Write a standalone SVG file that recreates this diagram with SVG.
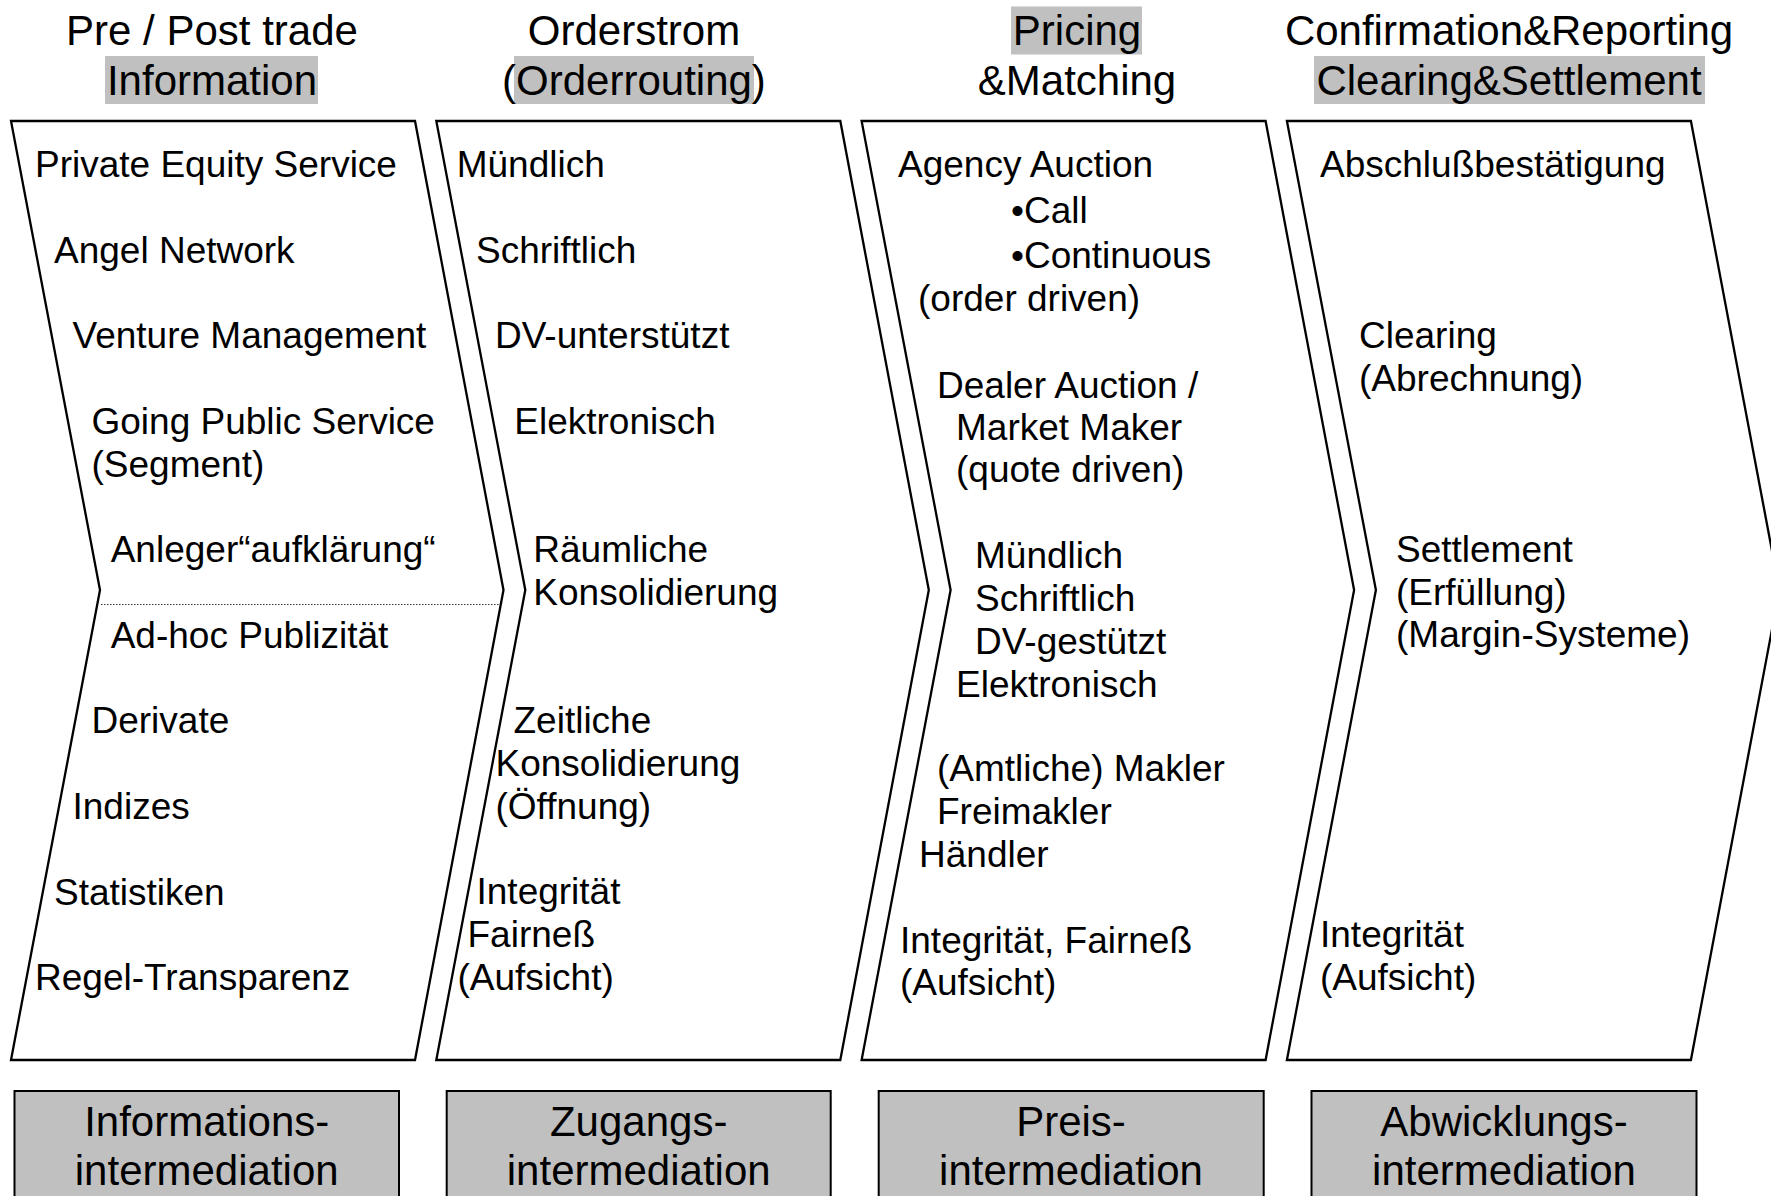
<svg xmlns="http://www.w3.org/2000/svg" width="1771" height="1196" viewBox="0 0 1771 1196">
<defs>
<style>
text{font-family:"Liberation Sans",Arial,sans-serif;fill:#000}
.h{font-size:42px;text-anchor:middle}
.b{font-size:37px}
.bx{font-size:42px;text-anchor:middle}
.hl{fill:#c0c0c0}
.chev{fill:#fff;stroke:#000;stroke-width:2.3;stroke-linejoin:miter}
.box{fill:#c0c0c0;stroke:#000;stroke-width:2}
.dot{stroke:#333;stroke-width:1.2;stroke-dasharray:1.5 1.5;fill:none}
</style>
<polygon id="chevShape" class="chev" points="11,121 415,121 503.5,590 415,1060 11,1060 100,590"/>
</defs>
<rect width="1771" height="1196" fill="#fff"/>

<g id="headers">
<g id="header1">
<text class="h" x="212" y="45">Pre / Post trade</text>
<rect class="hl" x="105" y="56" width="213" height="48"/>
<text class="h" x="212" y="95">Information</text>
</g>
<g id="header2">
<text class="h" x="634" y="45">Orderstrom</text>
<rect class="hl" x="514" y="56" width="240" height="48"/>
<text class="h" x="634" y="95">(Orderrouting)</text>
</g>
<g id="header3">
<rect class="hl" x="1011" y="6.5" width="131" height="48"/>
<text class="h" x="1077" y="45">Pricing</text>
<text class="h" x="1077" y="95">&amp;Matching</text>
</g>
<g id="header4">
<text class="h" x="1509" y="45">Confirmation&amp;Reporting</text>
<rect class="hl" x="1314" y="56" width="391" height="48"/>
<text class="h" x="1509" y="95">Clearing&amp;Settlement</text>
</g>
</g>

<g id="chevron1">
<use href="#chevShape"/>
<line class="dot" x1="101" y1="604.5" x2="500" y2="604.5"/>
<text class="b" x="35" y="177">Private Equity Service</text>
<text class="b" x="54" y="262.6">Angel Network</text>
<text class="b" x="72.5" y="348.2">Venture Management</text>
<text class="b" x="91.5" y="433.8">Going Public Service</text>
<text class="b" x="91.5" y="476.8">(Segment)</text>
<text class="b" x="110.7" y="562.2">Anleger“aufklärung“</text>
<text class="b" x="110.7" y="647.8">Ad-hoc Publizität</text>
<text class="b" x="91.5" y="733.4">Derivate</text>
<text class="b" x="72.5" y="819">Indizes</text>
<text class="b" x="54" y="904.6">Statistiken</text>
<text class="b" x="35" y="990">Regel-Transparenz</text>
</g>

<g id="chevron2">
<use href="#chevShape" x="425.3"/>
<text class="b" x="456.7" y="177">Mündlich</text>
<text class="b" x="476" y="262.6">Schriftlich</text>
<text class="b" x="495" y="348.2">DV-unterstützt</text>
<text class="b" x="514.3" y="433.8">Elektronisch</text>
<text class="b" x="533.3" y="562.4">Räumliche</text>
<text class="b" x="533.3" y="605.4">Konsolidierung</text>
<text class="b" x="513.5" y="732.6">Zeitliche</text>
<text class="b" x="495.5" y="775.6">Konsolidierung</text>
<text class="b" x="495.5" y="818.6">(Öffnung)</text>
<text class="b" x="476.5" y="903.6">Integrität</text>
<text class="b" x="467.5" y="946.6">Fairneß</text>
<text class="b" x="457.5" y="989.6">(Aufsicht)</text>
</g>

<g id="chevron3">
<use href="#chevShape" x="850.6"/>
<text class="b" x="898" y="177">Agency Auction</text>
<text class="b" x="1011" y="222.7">•Call</text>
<text class="b" x="1011" y="267.5">•Continuous</text>
<text class="b" x="918" y="311">(order driven)</text>
<text class="b" x="937" y="397.5">Dealer Auction /</text>
<text class="b" x="956" y="439.5">Market Maker</text>
<text class="b" x="956" y="482">(quote driven)</text>
<text class="b" x="975" y="568.3">Mündlich</text>
<text class="b" x="975" y="610.7">Schriftlich</text>
<text class="b" x="975" y="653.5">DV-gestützt</text>
<text class="b" x="956" y="696.5">Elektronisch</text>
<text class="b" x="937" y="781">(Amtliche) Makler</text>
<text class="b" x="937" y="824">Freimakler</text>
<text class="b" x="919" y="867">Händler</text>
<text class="b" x="900" y="952.5">Integrität, Fairneß</text>
<text class="b" x="900" y="995">(Aufsicht)</text>
</g>

<g id="chevron4">
<use href="#chevShape" x="1275.9"/>
<text class="b" x="1320" y="177">Abschlußbestätigung</text>
<text class="b" x="1359" y="348.3">Clearing</text>
<text class="b" x="1359" y="391">(Abrechnung)</text>
<text class="b" x="1396" y="562">Settlement</text>
<text class="b" x="1396" y="604.5">(Erfüllung)</text>
<text class="b" x="1396" y="647">(Margin-Systeme)</text>
<text class="b" x="1320" y="947">Integrität</text>
<text class="b" x="1320" y="990">(Aufsicht)</text>
</g>

<g id="box1">
<rect class="box" x="14.5" y="1091" width="384.5" height="120"/>
<text class="bx" x="206.7" y="1135.5">Informations-</text>
<text class="bx" x="206.7" y="1185">intermediation</text>
</g>
<g id="box2">
<rect class="box" x="446.7" y="1091" width="384" height="120"/>
<text class="bx" x="638.7" y="1135.5">Zugangs-</text>
<text class="bx" x="638.7" y="1185">intermediation</text>
</g>
<g id="box3">
<rect class="box" x="878.7" y="1091" width="385" height="120"/>
<text class="bx" x="1071" y="1135.5">Preis-</text>
<text class="bx" x="1071" y="1185">intermediation</text>
</g>
<g id="box4">
<rect class="box" x="1311.5" y="1091" width="385" height="120"/>
<text class="bx" x="1504" y="1135.5">Abwicklungs-</text>
<text class="bx" x="1504" y="1185">intermediation</text>
</g>
<g id="connectors"/>
</svg>
